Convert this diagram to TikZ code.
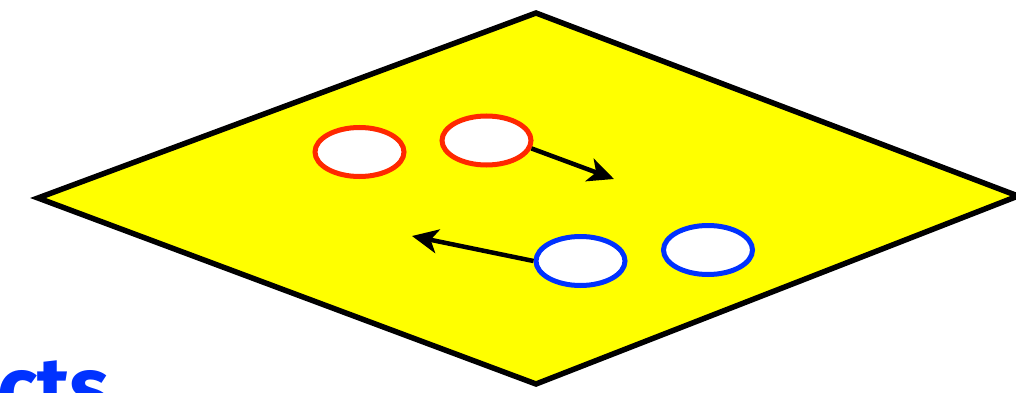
\documentclass[tikz,border=0pt]{standalone}
\usepackage{fontspec}
\newfontfamily\labfont{Fira Sans}
\usetikzlibrary{shapes.geometric,arrows.meta}
\definecolor{planeyellow}{RGB}{255,255,0}
\definecolor{partred}{RGB}{255,40,0}
\definecolor{partblue}{RGB}{0,50,255}
\tikzset{
  plane/.style={fill=planeyellow,draw=black,line width=5.5pt,line join=miter},
  particle/.style={ellipse,fill=white,line width=5pt,minimum width=89pt,minimum height=49pt,inner sep=0pt},
  redp/.style={particle,draw=partred},
  bluep/.style={particle,draw=partblue},
  motion/.style={draw=black,line width=4.5pt,-{Stealth[length=26pt,width=24pt,inset=7pt]}},
  caption/.style={text=partblue,font=\labfont\bfseries\fontsize{84}{84}\selectfont,inner sep=0pt,anchor=base west}
}
\begin{document}
\begin{tikzpicture}[x=1pt,y=-1pt]
\useasboundingbox (0,0) rectangle (1016,393);
\coordinate (top) at (536,13);
\coordinate (left) at (38,198);
\coordinate (bottom) at (536,384);
\coordinate (right) at (1018,196);
\path[plane] (top) -- (right) -- (bottom) -- (left) -- cycle;
\node[redp] (r1) at (359.5,152) {};
\node[redp] (r2) at (486.5,140.5) {};
\node[bluep] (b1) at (580.5,261) {};
\node[bluep] (b2) at (708,250) {};
\coordinate (t1) at (614,179);
\coordinate (t2) at (412,236);
\draw[motion] (r2.-10) -- (t1);
\draw[motion] (b1.west) -- (t2);
\node[caption] (cap) at (-3,416) {cts};
\end{tikzpicture}
\end{document}
